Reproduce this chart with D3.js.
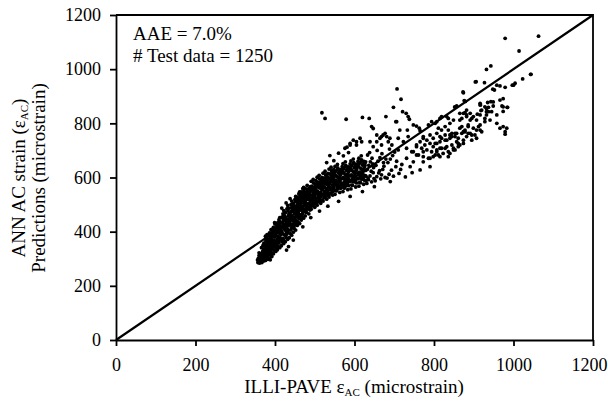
<!DOCTYPE html>
<html>
<head>
<meta charset="utf-8">
<script src="https://cdn.jsdelivr.net/npm/d3@7"></script>
<style>
  body { margin: 0; background: #fff; }
  svg { display: block; }
  text { font-family: "Liberation Serif", "Times New Roman", serif; }
  .axis path, .axis line { stroke: #000; stroke-width: 1.8; }
  .axis text { font-size: 18px; fill: #000; }
</style>
</head>
<body>
<div id="chart"></div>
<script>
// ILLI-PAVE strain (x) vs ANN prediction (y), microstrain
const xTicks = [0, 200, 400, 600, 800, 1000, 1200];
const yTicks = [0, 200, 400, 600, 800, 1000, 1200];
const notes = ["AAE = 7.0%", "# Test data = 1250"];

// dense band, 355 < x < 720
const bandPoints = [
  [357,286],[359,292],[361,288],[363,297],[358,301],[362,305],[364,291],[360,312],[356,295],[365,300],[363,318],[361,284],
  [366,289],[368,296],[370,304],[372,292],[374,311],[367,318],[369,327],[371,336],[373,322],[375,299],[366,341],[370,350],[372,358],[368,309],[374,331],[367,286],
  [376,294],[378,305],[380,316],[382,298],[384,327],[377,339],[379,348],[381,361],[383,372],[385,344],[376,383],[380,389],[382,334],[378,322],[384,356],[379,310],[383,301],[377,366],
  [386,302],[388,314],[390,325],[392,308],[394,337],[387,349],[389,361],[391,372],[393,384],[395,356],[386,395],[390,407],[392,344],[388,378],[394,320],[389,331],[393,398],[387,366],
  [396,318],[398,331],[400,343],[402,327],[404,355],[397,368],[399,380],[401,392],[403,404],[405,372],[396,416],[400,428],[402,386],[398,397],[404,340],[399,433],[403,361],[397,409],[401,350],
  [406,333],[408,346],[410,358],[412,341],[414,370],[407,383],[409,396],[411,408],[413,420],[415,389],[406,432],[410,444],[412,452],[408,414],[414,401],[409,364],[413,377],[407,426],[411,438],
  [416,348],[418,362],[420,375],[422,356],[424,388],[417,401],[419,414],[421,427],[423,440],[425,406],[416,453],[420,466],[422,478],[418,435],[424,420],[419,393],[423,460],[417,487],[421,369],[425,446],
  [426,363],[428,378],[430,391],[432,372],[434,405],[427,418],[429,431],[431,445],[433,458],[435,424],[426,471],[430,484],[432,497],[428,506],[434,438],[429,411],[433,476],[427,452],[431,398],[435,465],
  [436,378],[438,393],[440,406],[442,387],[444,420],[437,433],[439,447],[441,460],[443,474],[445,440],[436,487],[440,500],[442,513],[438,522],[444,455],[439,426],[443,492],[437,468],[441,414],[445,481],
  [446,398],[448,412],[450,425],[452,406],[454,439],[447,452],[449,466],[451,479],[453,492],[455,458],[446,505],[450,518],[452,530],[448,486],[454,472],[449,444],[453,511],[447,498],[451,432],[455,524],
  [456,423],[458,436],[460,449],[462,430],[464,462],[457,475],[459,488],[461,501],[463,514],[465,480],[456,527],[460,540],[462,547],[458,509],[464,495],[459,468],[463,533],[457,520],[461,455],[465,507],
  [466,443],[468,456],[470,469],[472,450],[474,482],[467,495],[469,508],[471,521],[473,534],[475,500],[466,547],[470,559],[472,563],[468,528],[474,515],[469,488],[473,551],[467,540],[471,475],[475,527],
  [476,458],[479,471],[482,484],[485,466],[488,497],[477,510],[480,523],[483,536],[486,549],[489,514],[476,560],[481,571],[484,503],[487,538],[478,545],[482,556],[486,528],[489,566],[480,490],[484,519],[477,533],[488,480],
  [491,483],[494,496],[497,509],[500,490],[503,522],[492,535],[495,548],[498,561],[501,574],[504,541],[491,586],[496,593],[499,527],[502,555],[493,568],[497,580],[501,514],[504,567],[494,519],[500,545],[492,552],[503,588],
  [506,498],[509,511],[512,524],[515,505],[518,537],[507,550],[510,563],[513,576],[516,589],[519,556],[506,601],[511,608],[514,543],[517,570],[508,583],[512,595],[516,529],[519,582],[509,534],[515,560],[507,567],[518,600],
  [521,513],[524,526],[527,539],[530,520],[533,552],[522,565],[525,578],[528,591],[531,604],[534,571],[521,616],[526,623],[529,558],[532,585],[523,598],[527,610],[531,544],[534,597],[524,549],[530,575],[522,582],[533,615],
  [536,528],[539,541],[542,554],[545,535],[548,567],[537,580],[540,593],[543,606],[546,619],[549,586],[536,631],[541,638],[544,573],[547,600],[538,613],[542,625],[546,559],[549,612],[539,564],[545,590],[537,597],[548,630],
  [551,538],[555,551],[559,564],[563,545],[567,577],[552,590],[556,603],[560,616],[564,629],[568,596],[551,641],[557,648],[561,583],[565,610],[553,623],[558,635],[562,569],[566,622],[554,574],[560,600],[552,607],[569,640],[557,558],[564,587],
  [571,548],[575,561],[579,574],[583,555],[587,587],[572,600],[576,613],[580,626],[584,639],[588,606],[571,651],[577,658],[581,593],[585,620],[573,633],[578,645],[582,579],[586,632],[574,584],[580,610],[572,617],[589,650],[577,568],[584,597],
  [591,558],[595,571],[599,584],[603,565],[607,597],[592,610],[596,623],[600,636],[604,649],[608,616],[591,661],[597,668],[601,603],[605,630],[593,643],[598,655],[602,589],[606,642],[594,594],[600,620],[592,627],[609,660],
  [611,568],[615,581],[619,594],[623,575],[627,607],[612,620],[616,633],[620,646],[624,659],[628,626],[611,671],[617,680],[621,613],[625,640],[613,653],[618,665],[622,599],[626,652],[614,604],[629,588],
  [631,578],[635,592],[639,606],[643,584],[647,618],[632,630],[636,645],[640,658],[644,671],[648,637],[633,683],[638,692],[642,623],[646,650],[634,598],[649,596],
  [652,588],[656,603],[661,617],[666,595],[671,630],[654,645],[659,660],[664,673],[669,688],[674,642],[657,700],[663,625],[668,610],[673,655],[677,600],[679,668],
  [682,598],[687,612],[693,627],[698,605],[704,640],[684,655],[690,668],[696,681],[701,694],[706,660],[712,615],[716,630],[688,705],[710,702],[719,648]
];

// more points in the core of the band
const corePoints = [
  [359,296],[362,309],[365,293],[367,303],[369,315],[371,328],[360,322],[364,287],
  [373,305],[375,318],[377,331],[379,354],[381,342],[383,387],[385,367],[387,322],[389,341],[374,348],[378,376],[386,385],[388,296],[382,313],
  [391,337],[393,352],[395,367],[397,382],[399,395],[401,405],[403,415],[405,425],[407,342],[409,375],[392,390],[396,345],[400,362],[404,398],[408,410],[394,408],
  [411,378],[413,392],[415,405],[417,418],[419,432],[421,445],[423,458],[425,470],[427,385],[429,398],[412,430],[416,372],[420,455],[424,412],[428,440],[426,425],
  [431,410],[433,422],[435,436],[437,449],[439,462],[441,476],[443,489],[445,502],[447,418],[449,431],[432,485],[436,460],[440,448],[444,428],[448,475],[446,490],
  [451,445],[453,458],[455,470],[457,484],[459,497],[461,510],[463,522],[465,535],[467,452],[469,465],[452,515],[456,500],[460,478],[464,488],[468,525],[466,512],
  [471,483],[473,495],[475,508],[477,520],[479,533],[481,545],[483,556],[485,490],[487,505],[489,520],[472,540],[476,478],[480,500],[484,528],[488,548],[486,560],
  [491,502],[493,515],[495,527],[497,540],[499,552],[501,564],[503,575],[505,510],[507,525],[509,540],[492,560],[496,505],[500,532],[504,550],[508,570],[506,578],
  [511,520],[513,533],[515,546],[517,558],[519,570],[521,583],[523,594],[525,530],[527,545],[529,560],[512,580],[516,515],[520,538],[524,565],[528,587],[526,598],
  [531,540],[533,552],[535,565],[537,578],[539,590],[541,602],[543,614],[545,548],[547,560],[549,575],[532,600],[536,538],[540,555],[544,585],[548,605],[546,618],
  [553,552],[556,565],[558,578],[561,590],[563,603],[566,615],[568,628],[554,585],[559,598],[562,620],[565,560],[569,575],[551,610],[557,630],
  [573,562],[576,575],[578,588],[581,600],[583,612],[586,625],[588,638],[574,595],[579,608],[582,630],[585,570],[589,585],[571,622],[577,640],
  [593,572],[596,585],[598,598],[601,610],[603,622],[606,635],[608,648],[594,605],[599,618],[602,640],[605,580],[609,595],[591,632],[597,650],
  [613,582],[616,595],[618,608],[621,620],[623,632],[626,645],[628,658],[614,615],[619,628],[622,650],[625,590],[629,605],[611,640],[617,660]
];

// scatter above the band, 480 < x < 760
const upperPoints = [
  [518,839],[526,818],[579,815],[620,822],[637,818],[679,825],[707,927],[717,889],[698,859],[721,843],[730,837],[735,825],
  [706,806],[647,781],[538,681],[733,775],[748,794],[756,790],[763,782],[765,773],[714,775],[738,815],[704,806],
  [589,726],[597,738],[605,732],[614,745],[618,732],[643,788],[656,757],[668,751],[677,763],[689,745],
  [605,720],[589,720],[576,708],[664,745],[672,757],[681,751],[656,732],[668,720],[685,732],[647,714],[694,720],[639,732],
  [710,745],[723,732],[735,751],[731,708],[744,695],[756,720],[581,712],[560,690],[572,680],[585,692],[548,662],[530,655]
];

// sparse tail, x > 720
const tailPoints = [
  [773,745],[803,800],[815,818],[832,825],[853,861],[874,913],[876,884],[906,954],[927,950],[932,999],[943,1012],
  [979,1114],[1014,1067],[1063,1122],[1023,964],[1044,981],[1000,941],[979,933],[966,938],[958,941],[952,923],
  [916,874],[928,861],[943,880],[949,864],[937,843],[920,849],[966,886],[974,861],[985,859],[958,831],[928,818],
  [916,831],[907,812],[899,825],[891,837],[882,849],[874,837],[870,818],[886,794],[899,782],[912,788],[920,769],
  [903,757],[891,763],[878,769],[865,782],[857,763],[845,751],[832,738],[819,745],[807,726],[798,714],[794,695],
  [803,683],[815,708],[823,689],[836,677],[849,708],[861,726],[874,738],[882,751],[895,738],[907,745],
  [974,788],[979,769],[966,782],[983,782],[979,760],[917,868],[935,877],[949,879],[974,891],[984,859],[974,844],
  [937,859],[945,843],[932,843],[918,847],[909,834],[971,864],[882,825],[891,812],[941,812],[958,800],[916,775],
  [865,812],[870,788],[852,860],[879,881],[904,953],[873,916],[1043,981],[1004,948],[997,941],[948,926],
  [857,864],[865,837],[878,839],[836,818],[849,812],[840,800],[819,825],[807,806],[794,806],[786,794],
  [811,782],[819,775],[828,788],[836,775],[845,763],[828,757],[815,751],[807,763],[798,745],[790,757],[782,738],
  [773,751],[765,732],[777,720],[790,726],[803,726],[815,732],[828,738],[840,745],[853,751],[857,732],[845,720],
  [832,714],[819,708],[807,702],[782,702],[769,708],[756,714],[748,695],[761,683],[773,677],[786,671],
  [798,677],[811,683],[836,695],[849,702],[861,714],[874,726],[886,763],[878,775],[870,763],
  [840,757],[853,763],[861,745],[874,769],[886,788],[895,757],[907,775],[916,794],[928,806],[932,831],[882,831],[895,818],[916,868],[932,855],
  [756,683],[773,658],[790,671],[807,695],[815,677],[828,708],[840,689],[853,702],[865,720],[773,695],[790,640],[765,628],[740,640],[748,658],[731,671]
];

// strays right of / below the band
const lowPoints = [
  [429,332],[417,369],[446,369],[434,345],[459,431],[470,418],[490,452],[512,476],[533,494],[560,512],[589,530],[620,548],[650,566],[690,585],[728,602],[745,618]
];

const serif = '"Liberation Serif", "Times New Roman", serif';
const margin = { top: 15, right: 15, bottom: 65, left: 116 };
const width = 608, height = 405;

const svg = d3.select("#chart").append("svg")
  .attr("width", width)
  .attr("height", height)
  .attr("font-family", serif);

const x = d3.scaleLinear().domain([0, 1200]).range([margin.left, width - margin.right]);
const y = d3.scaleLinear().domain([0, 1200]).range([height - margin.bottom, margin.top]);

// frame (top and right)
svg.append("path")
  .attr("fill", "none")
  .attr("stroke", "#000")
  .attr("stroke-width", 1.8)
  .attr("d", `M${x(0)},${y(1200)}H${x(1200)}V${y(0)}`);

svg.append("g")
  .attr("class", "axis")
  .attr("transform", `translate(0,${y(0)})`)
  .call(d3.axisBottom(x).tickValues(xTicks).tickFormat(d3.format("d")).tickSize(6).tickPadding(9).tickSizeOuter(0))
  .attr("font-family", serif)
  .call((g) => g.selectAll("text").attr("dy", "0.9em"))
  // last label sits against the page edge
  .call((g) => g.selectAll(".tick").filter((d) => d === 1200).select("text").attr("dx", -4));

svg.append("g")
  .attr("class", "axis")
  .attr("transform", `translate(${x(0)},0)`)
  .call(d3.axisLeft(y).tickValues(yTicks).tickFormat(d3.format("d")).tickSize(6).tickPadding(9).tickSizeOuter(0))
  .attr("font-family", serif);

// 1:1 line
svg.append("line")
  .attr("x1", x(0)).attr("y1", y(0))
  .attr("x2", x(1200)).attr("y2", y(1200))
  .attr("stroke", "#000")
  .attr("stroke-width", 2.2);

const allPoints = [...bandPoints, ...corePoints, ...upperPoints, ...tailPoints, ...lowPoints];
svg.append("g")
  .selectAll("circle")
  .data(allPoints)
  .join("circle")
  .attr("cx", (d) => x(d[0]))
  .attr("cy", (d) => y(d[1]))
  .attr("r", 1.9)
  .attr("fill", "#000");

svg.append("g")
  .selectAll("text")
  .data(notes)
  .join("text")
  .attr("x", 133)
  .attr("y", (d, i) => 40 + i * 22)
  .attr("font-size", 19)
  .text((d) => d);

// x title
const xt = svg.append("text")
  .attr("x", 354)
  .attr("y", 393)
  .attr("text-anchor", "middle")
  .attr("font-size", 19);
xt.append("tspan").text("ILLI-PAVE  \u03b5");
xt.append("tspan").attr("font-size", 11).attr("dy", 3).text("AC");
xt.append("tspan").attr("dy", -3).text(" (microstrain)");

// y title, two lines
const yt = svg.append("g").attr("transform", "translate(25,178) rotate(-90)");
const yl1 = yt.append("text").attr("text-anchor", "middle").attr("font-size", 19);
yl1.append("tspan").text("ANN AC strain (\u03b5");
yl1.append("tspan").attr("font-size", 11).attr("dy", 3).text("AC");
yl1.append("tspan").attr("dy", -3).text(")");
yt.append("text")
  .attr("text-anchor", "middle")
  .attr("font-size", 19)
  .attr("y", 20)
  .text("Predictions (microstrain)");
</script>
</body>
</html>
